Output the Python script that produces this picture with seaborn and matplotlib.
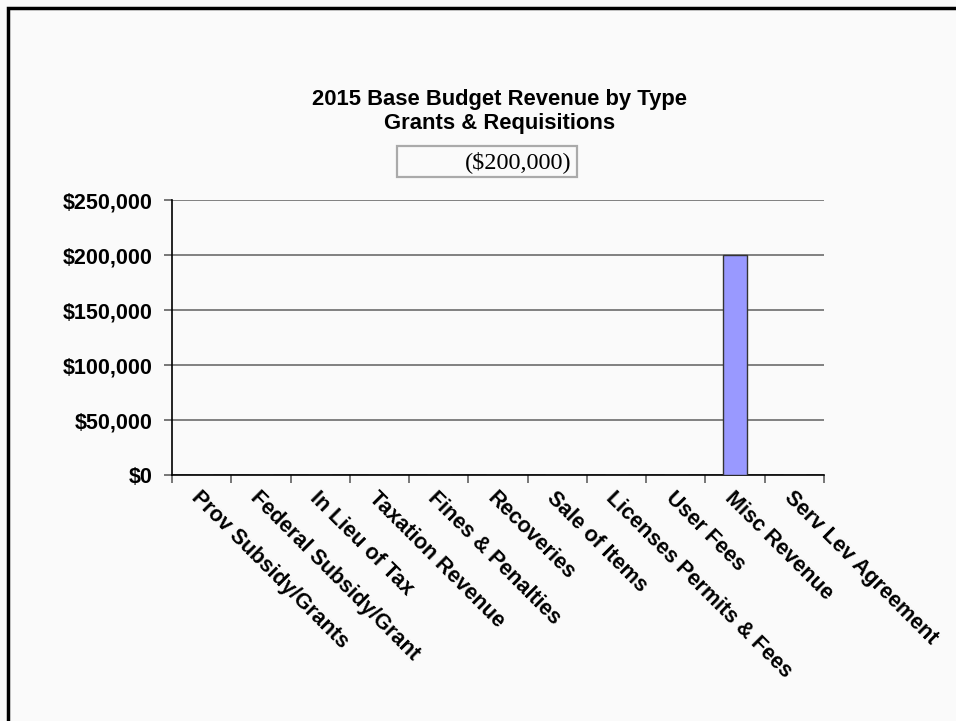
import matplotlib
matplotlib.use("Agg")
import matplotlib.pyplot as plt
from matplotlib.patches import Rectangle
from matplotlib.ticker import FuncFormatter, FixedLocator
import seaborn as sns
import pandas as pd

# Revenue categories and 2015 base budget amounts
categories = [
    "Prov Subsidy/Grants", "Federal Subsidy/Grant", "In Lieu of Tax",
    "Taxation Revenue", "Fines & Penalties", "Recoveries", "Sale of Items",
    "Licenses Permits & Fees", "User Fees", "Misc Revenue", "Serv Lev Agreement",
]
amounts = [0, 0, 0, 0, 0, 0, 0, 0, 0, 200000, 0]
total_label_value = 200000
y_ticks = [0, 50000, 100000, 150000, 200000, 250000]

title_lines = ["2015 Base Budget Revenue by Type", "Grants & Requisitions"]

df = pd.DataFrame({"Type": categories, "Amount": amounts})

sns.set_theme(style="white")
plt.rcParams["font.family"] = ["Liberation Sans", "DejaVu Sans"]
plt.rcParams["text.color"] = "black"
plt.rcParams["xtick.color"] = "black"
plt.rcParams["ytick.color"] = "black"
plt.rcParams["xtick.labelcolor"] = "black"
plt.rcParams["ytick.labelcolor"] = "black"

W, H = 956, 721
fig = plt.figure(figsize=(W / 100, H / 100), dpi=100)
fig.patch.set_facecolor("#fafafa")

ax = fig.add_axes([172 / W, 1 - 475 / H, (824 - 172) / W, (475 - 200) / H])
ax.set_facecolor("#fafafa")

sns.barplot(data=df, x="Type", y="Amount", order=categories, color="#9999ff",
            saturation=1, width=0.4, edgecolor="#333333", linewidth=1.0, ax=ax)

ax.set_xlim(-0.5, len(categories) - 0.5)
ax.set_ylim(0, 250000)
ax.set_yticks(y_ticks)
ax.yaxis.set_major_formatter(FuncFormatter(lambda v, p: f"${v:,.0f}"))
ax.grid(axis="y", color="#777777", linewidth=1.3)
ax.set_axisbelow(True)
for b in ax.patches:
    b.set_zorder(3)

# Category labels centred on each slot, tick marks on slot boundaries
ax.set_xticks(range(len(categories)))
ax.set_xticklabels(categories, rotation=-45, ha="left", va="top",
                   rotation_mode="anchor", fontsize=15.5, fontweight="bold",
                   color="black")
ax.tick_params(axis="x", which="major", length=0, pad=9)
ax.xaxis.set_minor_locator(FixedLocator([i - 0.5 for i in range(len(categories) + 1)]))
ax.tick_params(axis="x", which="minor", length=6, width=1.2, color="#606060",
               direction="out", bottom=True)
ax.tick_params(axis="y", length=6, width=1.2, color="#606060", direction="out",
               left=True, labelsize=15.5, pad=8, labelcolor="black")
for lbl in ax.get_yticklabels():
    lbl.set_fontweight("bold")

ax.set_xlabel("")
ax.set_ylabel("")
for side in ("top", "right"):
    ax.spines[side].set_visible(False)
for side in ("left", "bottom"):
    ax.spines[side].set_color("black")
    ax.spines[side].set_linewidth(1.2)

# Title
fig.text(500 / W, 1 - 100 / H, title_lines[0], ha="center", va="center",
         fontsize=15.8, fontweight="bold", color="black")
fig.text(500 / W, 1 - 124 / H, title_lines[1], ha="center", va="center",
         fontsize=15.8, fontweight="bold", color="black")

# Boxed total label
fig.patches.append(Rectangle((397 / W, 1 - 177 / H), (577 - 397) / W, (177 - 146) / H,
                             transform=fig.transFigure, fill=False,
                             edgecolor="#aaaaaa", linewidth=1.6))
fig.text(572 / W, 1 - 162 / H, f"(${total_label_value:,.0f})", ha="right",
         va="center", fontsize=17.5, color="black",
         family=["Liberation Serif", "DejaVu Serif"])

# Outer frame (top and left edges visible)
fig.patches.append(Rectangle((8 / W, -0.2), 1.2, 1 - 8 / H + 0.2,
                             transform=fig.transFigure, fill=False,
                             edgecolor="black", linewidth=2.5, clip_on=False))

fig.savefig("out.png", dpi=100, facecolor=fig.get_facecolor())
